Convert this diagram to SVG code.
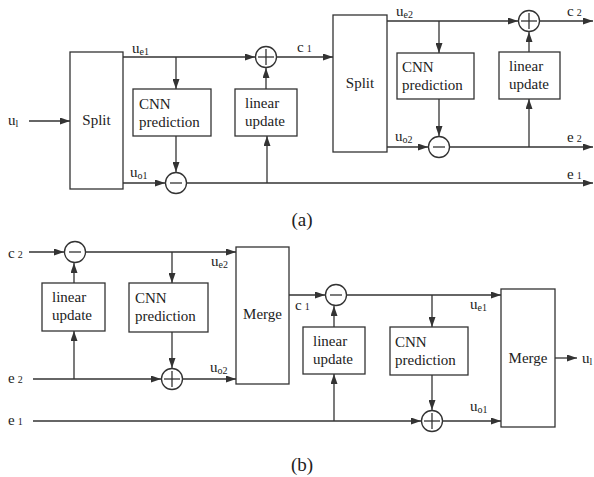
<svg xmlns="http://www.w3.org/2000/svg" width="594" height="477" viewBox="0 0 594 477" font-family="'Liberation Serif', 'DejaVu Serif', serif">
<style>
.b{fill:#fff;stroke:#333;stroke-width:1.3}
.c{fill:none;stroke:#333;stroke-width:1.3}
.w{stroke:#333;stroke-width:1.3;fill:none}
text{font-family:'Liberation Serif','DejaVu Serif',serif;font-size:15px;fill:#222}
.s{font-size:10px}
.m{text-anchor:middle}
.cap{font-size:19px}
</style>
<defs>
<marker id="ah" markerWidth="10" markerHeight="7" refX="10" refY="3.5" orient="auto" markerUnits="userSpaceOnUse">
<path d="M0,0 L10,3.5 L0,7 z" fill="#333"/>
</marker>
</defs>

<g id="connectors" class="w" marker-end="url(#ah)">
<line x1="29" y1="121" x2="70" y2="121"/>
<line x1="123" y1="57" x2="255" y2="57"/>
<line x1="176" y1="57" x2="176" y2="89"/>
<line x1="176" y1="136" x2="176" y2="172"/>
<line x1="123" y1="183" x2="165" y2="183"/>
<line x1="187" y1="183" x2="593" y2="183"/>
<line x1="267" y1="183" x2="267" y2="136"/>
<line x1="266" y1="89" x2="266" y2="68"/>
<line x1="277" y1="57" x2="333" y2="57"/>
<line x1="387" y1="21" x2="518" y2="21"/>
<line x1="439" y1="21" x2="439" y2="53"/>
<line x1="439" y1="99" x2="439" y2="136"/>
<line x1="387" y1="147" x2="428" y2="147"/>
<line x1="450" y1="147" x2="593" y2="147"/>
<line x1="529" y1="147" x2="529" y2="99"/>
<line x1="529" y1="52" x2="529" y2="32"/>
<line x1="539" y1="21" x2="593" y2="21"/>
<line x1="29" y1="252" x2="64" y2="252"/>
<line x1="86" y1="252" x2="236" y2="252"/>
<line x1="172" y1="252" x2="172" y2="283"/>
<line x1="172" y1="332" x2="172" y2="368"/>
<line x1="74" y1="283" x2="74" y2="263"/>
<line x1="33" y1="379" x2="161" y2="379"/>
<line x1="74" y1="379" x2="74" y2="331"/>
<line x1="183" y1="379" x2="236" y2="379"/>
<line x1="289" y1="295" x2="325" y2="295"/>
<line x1="347" y1="295" x2="501" y2="295"/>
<line x1="432" y1="295" x2="432" y2="327"/>
<line x1="432" y1="375" x2="432" y2="410"/>
<line x1="334" y1="327" x2="334" y2="306"/>
<line x1="33" y1="421" x2="421" y2="421"/>
<line x1="334" y1="421" x2="334" y2="374"/>
<line x1="443" y1="421" x2="501" y2="421"/>
<line x1="555" y1="358" x2="577" y2="358"/>
</g>

<g id="split1"><rect class="b" x="70" y="52" width="53" height="137"/><text class="m" x="96.5" y="125">Split</text></g>
<g id="cnn1"><rect class="b" x="133" y="89" width="78" height="47"/><text x="139" y="109">CNN</text><text x="139" y="127">prediction</text></g>
<g id="minus1"><circle class="b" cx="176" cy="183" r="10.5"/><line class="c" x1="170" y1="183" x2="182" y2="183"/></g>
<g id="lin1"><rect class="b" x="235" y="89" width="62" height="47"/><text x="245" y="108">linear</text><text x="245" y="126">update</text></g>
<g id="plus1"><circle class="b" cx="266" cy="57" r="10.5"/><line class="c" x1="258" y1="57" x2="274" y2="57"/><line class="c" x1="266" y1="49" x2="266" y2="65"/></g>
<g id="split2"><rect class="b" x="333" y="15" width="54" height="137"/><text class="m" x="360" y="88">Split</text></g>
<g id="cnn2"><rect class="b" x="397" y="53" width="77" height="46"/><text x="402" y="72">CNN</text><text x="402" y="90">prediction</text></g>
<g id="minus2"><circle class="b" cx="439" cy="147" r="10.5"/><line class="c" x1="433" y1="147" x2="445" y2="147"/></g>
<g id="lin2"><rect class="b" x="499" y="52" width="61" height="47"/><text x="509" y="71">linear</text><text x="509" y="89">update</text></g>
<g id="plus2"><circle class="b" cx="529" cy="21" r="10.5"/><line class="c" x1="521" y1="21" x2="537" y2="21"/><line class="c" x1="529" y1="13" x2="529" y2="29"/></g>

<g id="minus3"><circle class="b" cx="75" cy="252" r="10.5"/><line class="c" x1="69" y1="252" x2="81" y2="252"/></g>
<g id="lin3"><rect class="b" x="42" y="283" width="63" height="48"/><text x="52" y="302">linear</text><text x="52" y="320">update</text></g>
<g id="cnn3"><rect class="b" x="129" y="283" width="79" height="49"/><text x="135" y="303">CNN</text><text x="135" y="321">prediction</text></g>
<g id="plus3"><circle class="b" cx="172" cy="379" r="10.5"/><line class="c" x1="164" y1="379" x2="180" y2="379"/><line class="c" x1="172" y1="371" x2="172" y2="387"/></g>
<g id="merge1"><rect class="b" x="236" y="247" width="53" height="137"/><text class="m" x="262.5" y="319">Merge</text></g>
<g id="minus4"><circle class="b" cx="336" cy="295" r="10.5"/><line class="c" x1="330" y1="295" x2="342" y2="295"/></g>
<g id="lin4"><rect class="b" x="303" y="327" width="62" height="47"/><text x="313" y="346">linear</text><text x="313" y="364">update</text></g>
<g id="cnn4"><rect class="b" x="390" y="327" width="78" height="48"/><text x="395" y="347">CNN</text><text x="395" y="365">prediction</text></g>
<g id="plus4"><circle class="b" cx="432" cy="421" r="10.5"/><line class="c" x1="424" y1="421" x2="440" y2="421"/><line class="c" x1="432" y1="413" x2="432" y2="429"/></g>
<g id="merge2"><rect class="b" x="501" y="289" width="54" height="138"/><text class="m" x="528" y="363">Merge</text></g>

<g id="labels">
<text x="8" y="125">u<tspan class="s" dy="2">l</tspan></text>
<text x="132" y="53">u<tspan class="s" dy="2">e1</tspan></text>
<text x="130" y="177">u<tspan class="s" dy="2">o1</tspan></text>
<text x="297" y="52">c<tspan class="s" dx="3">1</tspan></text>
<text x="396" y="16">u<tspan class="s" dy="2">e2</tspan></text>
<text x="395" y="141">u<tspan class="s" dy="2">o2</tspan></text>
<text x="567" y="16">c<tspan class="s" dx="3">2</tspan></text>
<text x="567" y="142">e<tspan class="s" dx="3">2</tspan></text>
<text x="567" y="179">e<tspan class="s" dx="3">1</tspan></text>
<text class="m cap" x="302" y="226">(a)</text>
<text x="8" y="258">c<tspan class="s" dx="3">2</tspan></text>
<text x="211" y="266">u<tspan class="s" dy="2">e2</tspan></text>
<text x="8" y="383">e<tspan class="s" dx="3">2</tspan></text>
<text x="210" y="372">u<tspan class="s" dy="2">o2</tspan></text>
<text x="295" y="310">c<tspan class="s" dx="3">1</tspan></text>
<text x="470" y="309">u<tspan class="s" dy="2">e1</tspan></text>
<text x="470" y="411">u<tspan class="s" dy="2">o1</tspan></text>
<text x="8" y="425">e<tspan class="s" dx="3">1</tspan></text>
<text x="582" y="363">u<tspan class="s" dy="2">l</tspan></text>
<text class="m cap" x="302" y="471">(b)</text>
</g>
</svg>
